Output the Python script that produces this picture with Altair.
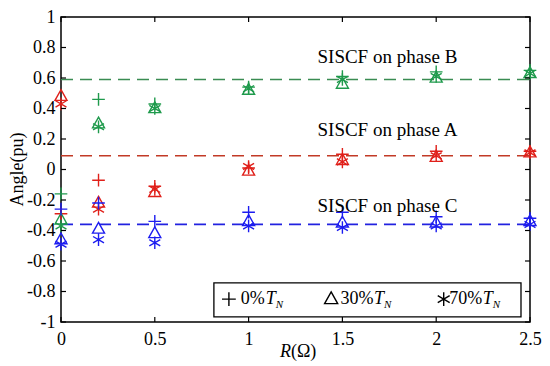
import altair as alt
import pandas as pd

# ---------------- data ----------------
R = [0, 0.2, 0.5, 1, 1.5, 2, 2.5]
loads = ["0%", "30%", "70%"]

A_0 = [-0.29, -0.07, -0.11, 0.01, 0.10, 0.12, 0.12]
A_30 = [0.48, -0.22, -0.15, -0.01, 0.06, 0.08, 0.11]
A_70 = [0.43, -0.26, -0.13, 0.02, 0.05, 0.09, 0.11]

B_0 = [-0.16, 0.46, 0.43, 0.54, 0.61, 0.64, 0.65]
B_30 = [-0.33, 0.30, 0.40, 0.52, 0.56, 0.60, 0.63]
B_70 = [-0.37, 0.28, 0.40, 0.53, 0.59, 0.61, 0.63]

C_0 = [-0.26, -0.22, -0.34, -0.28, -0.28, -0.31, -0.32]
C_30 = [-0.46, -0.39, -0.42, -0.34, -0.35, -0.35, -0.34]
C_70 = [-0.49, -0.46, -0.48, -0.37, -0.38, -0.37, -0.36]

phases = ["A", "B", "C"]
ref_levels = [0.09, 0.59, -0.36]
ann_text = ["SISCF on phase A", "SISCF on phase B", "SISCF on phase C"]
ann_x = [1.74, 1.74, 1.74]
ann_y = [0.261, 0.739, -0.242]

x_ticks = [0, 0.5, 1, 1.5, 2, 2.5]
y_ticks = [1, 0.8, 0.6, 0.4, 0.2, 0, -0.2, -0.4, -0.6, -0.8, -1]

point_colors = ["#e0201a", "#1f9a4c", "#1c1cf0"]
line_colors = ["#c23a26", "#3a8c52", "#2222e0"]

FONT = "Liberation Serif, Times New Roman, serif"
W, H = 469, 305

# ---------------- tables ----------------
series = {
    ("A", "0%"): A_0, ("A", "30%"): A_30, ("A", "70%"): A_70,
    ("B", "0%"): B_0, ("B", "30%"): B_30, ("B", "70%"): B_70,
    ("C", "0%"): C_0, ("C", "30%"): C_30, ("C", "70%"): C_70,
}
rows = []
for (ph, ld), vals in series.items():
    for r, v in zip(R, vals):
        rows.append({"R": r, "v": v, "phase": ph, "load": ld})
pts = pd.DataFrame(rows)

lines = pd.DataFrame({
    "phase": phases * 2,
    "R": [0] * 3 + [2.5] * 3,
    "v": ref_levels * 2,
})
ann = pd.DataFrame({"t": ann_text, "R": ann_x, "v": ann_y})

xs = alt.Scale(domain=[0, 2.5], nice=False, zero=False)
ys = alt.Scale(domain=[-1, 1], nice=False, zero=False)

PLUS = "M-1,0L1,0M0,-1L0,1"
TRI = "M0,-1.05L0.95,0.65L-0.95,0.65Z"
STAR = "M0,-1L0,1M-0.866,-0.5L0.866,0.5M-0.866,0.5L0.866,-0.5"
shape_scale = alt.Scale(domain=loads, range=[PLUS, TRI, STAR])
color_pts = alt.Scale(domain=phases, range=point_colors)
color_lines = alt.Scale(domain=phases, range=line_colors)

xax = alt.Axis(values=x_ticks, format="~g", labelPadding=8, title=None)
yax = alt.Axis(values=y_ticks,
               labelExpr="replace(format(datum.value, '~g'), '\u2212', '-')",
               labelPadding=6, title=None)

base_lines = alt.Chart(lines).mark_line(strokeDash=[12, 7], strokeWidth=1.6).encode(
    x=alt.X("R:Q", scale=xs, axis=xax),
    y=alt.Y("v:Q", scale=ys, axis=yax),
    color=alt.Color("phase:N", scale=color_lines, legend=None),
    detail="phase:N",
)

points = alt.Chart(pts).mark_point(filled=False, strokeWidth=1.4, size=160, opacity=1).encode(
    x=alt.X("R:Q", scale=xs, axis=xax),
    y=alt.Y("v:Q", scale=ys, axis=yax),
    shape=alt.Shape("load:N", scale=shape_scale, legend=None),
    stroke=alt.Stroke("phase:N", scale=color_pts, legend=None),
)

annotations = alt.Chart(ann).mark_text(font=FONT, fontSize=19, color="black").encode(
    x=alt.X("R:Q", scale=xs, axis=xax), y=alt.Y("v:Q", scale=ys, axis=yax), text="t:N"
)

# inward tick marks (box on all four sides)
xt = pd.DataFrame({"R": x_ticks})
yt = pd.DataFrame({"v": y_ticks})
tick_bottom = alt.Chart(xt).mark_rule(color="black", strokeWidth=1.2).encode(
    x=alt.X("R:Q", scale=xs, axis=xax), y=alt.value(H), y2=alt.value(H - 5))
tick_top = alt.Chart(xt).mark_rule(color="black", strokeWidth=1.2).encode(
    x=alt.X("R:Q", scale=xs, axis=xax), y=alt.value(0), y2=alt.value(5))
tick_left = alt.Chart(yt).mark_rule(color="black", strokeWidth=1.2).encode(
    y=alt.Y("v:Q", scale=ys, axis=yax), x=alt.value(0), x2=alt.value(5))
tick_right = alt.Chart(yt).mark_rule(color="black", strokeWidth=1.2).encode(
    y=alt.Y("v:Q", scale=ys, axis=yax), x=alt.value(W), x2=alt.value(W - 5))

# legend box
leg_box = pd.DataFrame({"x1": [0.815], "x2": [2.452], "y1": [-0.743], "y2": [-0.967]})
legend_rect = alt.Chart(leg_box).mark_rect(fill="white", stroke="black", strokeWidth=1.3).encode(
    x=alt.X("x1:Q", scale=xs, axis=xax), x2="x2:Q",
    y=alt.Y("y1:Q", scale=ys, axis=yax), y2="y2:Q")

leg_sym = pd.DataFrame({"load": loads, "R": [0.895, 1.44, 2.04], "v": [-0.85] * 3})
legend_symbols = alt.Chart(leg_sym).mark_point(filled=False, strokeWidth=1.4, size=190,
                                               color="black", opacity=1).encode(
    x=alt.X("R:Q", scale=xs, axis=xax), y=alt.Y("v:Q", scale=ys, axis=yax),
    shape=alt.Shape("load:N", scale=shape_scale, legend=None))

leg_txt = pd.DataFrame({"t": loads, "R": [0.958, 1.49, 2.07], "v": [-0.85] * 3})
legend_text = alt.Chart(leg_txt).mark_text(font=FONT, fontSize=18, align="left",
                                           baseline="middle", color="black").encode(
    x=alt.X("R:Q", scale=xs, axis=xax), y=alt.Y("v:Q", scale=ys, axis=yax), text="t:N")
leg_T = pd.DataFrame({"t": ["T"] * 3, "R": [1.092, 1.668, 2.248], "v": [-0.85] * 3})
legend_T = alt.Chart(leg_T).mark_text(font=FONT, fontSize=18, fontStyle="italic", align="left",
                                      baseline="middle", color="black").encode(
    x=alt.X("R:Q", scale=xs, axis=xax), y=alt.Y("v:Q", scale=ys, axis=yax), text="t:N")
legend_N = alt.Chart(leg_T).mark_text(font=FONT, fontSize=11, fontStyle="italic", align="left",
                                      baseline="middle", color="black", dx=10, dy=6).encode(
    x=alt.X("R:Q", scale=xs, axis=xax), y=alt.Y("v:Q", scale=ys, axis=yax),
    text=alt.value("N"))

# axis titles
ytitle = alt.Chart(pd.DataFrame({"t": ["Angle(pu)"]})).mark_text(
    font=FONT, fontSize=18, angle=270, color="black").encode(
    x=alt.value(-43), y=alt.value(H / 2), text="t:N")
xtitle_R = alt.Chart(pd.DataFrame({"t": ["R"]})).mark_text(
    font=FONT, fontSize=18, fontStyle="italic", align="right", color="black").encode(
    x=alt.value(230), y=alt.value(335), text="t:N")
xtitle_rest = alt.Chart(pd.DataFrame({"t": ["(\u03a9)"]})).mark_text(
    font=FONT, fontSize=18, align="left", color="black").encode(
    x=alt.value(230), y=alt.value(335), text="t:N")

chart = alt.layer(
    base_lines, points, annotations,
    tick_bottom, tick_top, tick_left, tick_right,
    legend_rect, legend_symbols, legend_text, legend_T, legend_N,
    ytitle, xtitle_R, xtitle_rest,
).properties(
    width=W, height=H,
    autosize=alt.AutoSizeParams(type="none"),
    padding={"left": 53, "top": 9, "right": 12, "bottom": 40},
    background="white",
).configure_view(
    stroke="black", strokeWidth=1.5
).configure_axis(
    ticks=False, domain=False, grid=False,
    labelFont=FONT, labelFontSize=18, labelColor="black",
    labelOverlap=False, labelFlush=False, labelBound=False,
)

chart.save("out.html", embed_options={"renderer": "svg", "actions": False})
